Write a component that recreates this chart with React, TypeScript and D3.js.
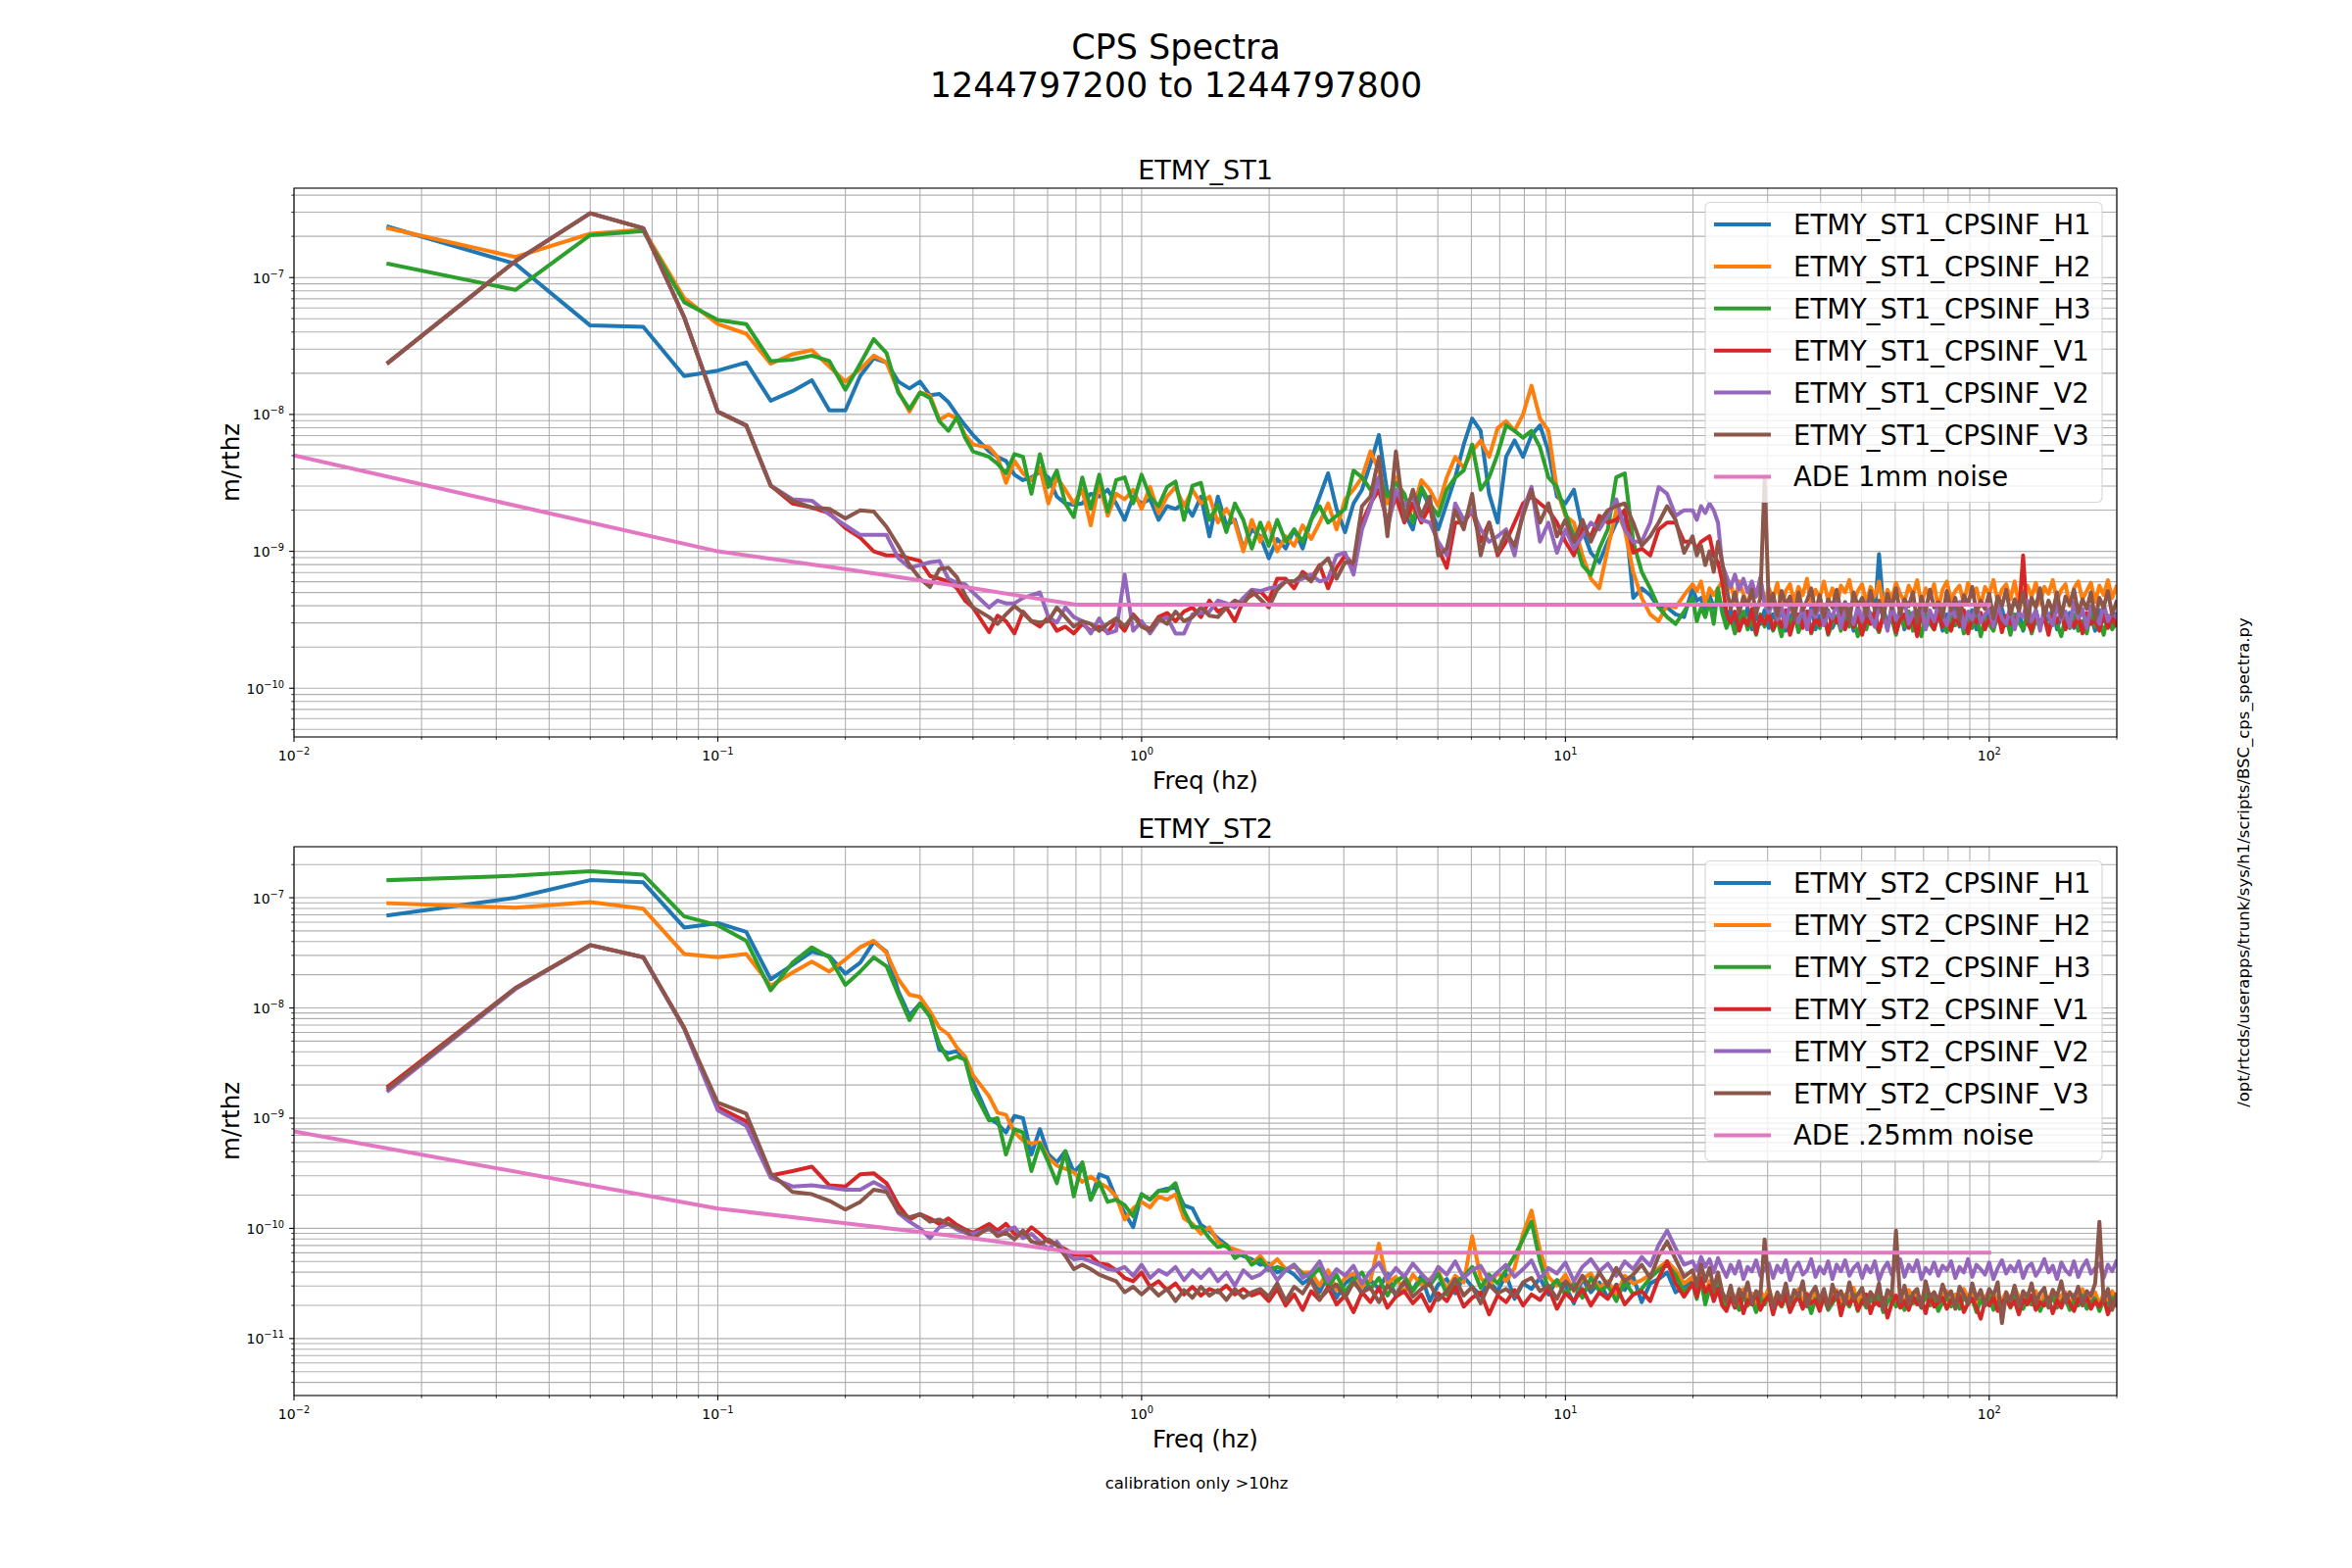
import React from 'react';
import * as d3 from 'd3';

const FONT = '"DejaVu Sans", Verdana, sans-serif';
const COLORS = ['#1f77b4', '#ff7f0e', '#2ca02c', '#d62728', '#9467bd', '#8c564b', '#e377c2'];

// frequency bins (Hz) of the low end, 1/60 Hz apart
const F_LOW = [0.0167, 0.0333, 0.05, 0.0667, 0.0833, 0.1, 0.1167, 0.1333, 0.15, 0.1667, 0.1833, 0.2, 0.2167, 0.2333, 0.25, 0.2667, 0.2833, 0.3, 0.3167, 0.3333, 0.35, 0.3667, 0.3833, 0.4];
// log10(Hz) of the points read in the middle (0.44 - 19 Hz)
const F_MID_LOG = [
  -0.36, -0.34, -0.32, -0.3, -0.28, -0.26, -0.24, -0.22, -0.2, -0.18,
  -0.16, -0.14, -0.12, -0.1, -0.08, -0.06, -0.04, -0.02, 0.0, 0.02,
  0.04, 0.06, 0.08, 0.1, 0.12, 0.14, 0.16, 0.18, 0.2, 0.22,
  0.24, 0.26, 0.28, 0.3, 0.32, 0.34, 0.36, 0.38, 0.4, 0.42,
  0.44, 0.46, 0.48, 0.5, 0.52, 0.54, 0.56, 0.58, 0.6, 0.62,
  0.64, 0.66, 0.68, 0.7, 0.72, 0.74, 0.76, 0.78, 0.8, 0.82,
  0.84, 0.86, 0.88, 0.9, 0.92, 0.94, 0.96, 0.98, 1.0, 1.02,
  1.04, 1.06, 1.08, 1.1, 1.12, 1.14, 1.16, 1.18, 1.2, 1.22,
  1.24, 1.26, 1.28,
];
// log10(Hz) of the points read in the noise band (20 - 200 Hz)
const F_BAND_LOG = [
  1.3, 1.31, 1.32, 1.33, 1.34, 1.35, 1.36, 1.37, 1.38, 1.39,
  1.4, 1.41, 1.42, 1.43, 1.44, 1.45, 1.46, 1.47, 1.48, 1.49,
  1.5, 1.51, 1.52, 1.53, 1.54, 1.55, 1.56, 1.57, 1.58, 1.59,
  1.6, 1.61, 1.62, 1.63, 1.64, 1.65, 1.66, 1.67, 1.68, 1.69,
  1.7, 1.71, 1.72, 1.73, 1.74, 1.75, 1.76, 1.77, 1.78, 1.79,
  1.8, 1.81, 1.82, 1.83, 1.84, 1.85, 1.86, 1.87, 1.88, 1.89,
  1.9, 1.91, 1.92, 1.93, 1.94, 1.95, 1.96, 1.97, 1.98, 1.99,
  2.0, 2.01, 2.02, 2.03, 2.04, 2.05, 2.06, 2.07, 2.08, 2.09,
  2.1, 2.11, 2.12, 2.13, 2.14, 2.15, 2.16, 2.17, 2.18, 2.19,
  2.2, 2.21, 2.22, 2.23, 2.24, 2.25, 2.26, 2.27, 2.28, 2.29, 2.3,
];

// ADE noise curves (Hz, log10 m/rthz)
const ADE_F = [0.01, 0.1, 0.2, 0.4, 0.7, 100];
const ADE_1MM = [-8.3, -9.0, -9.13, -9.27, -9.39, -9.39];
const ADE_025MM = [-9.12, -9.82, -9.955, -10.09, -10.22, -10.22];

const ST1_LABELS = ['ETMY_ST1_CPSINF_H1', 'ETMY_ST1_CPSINF_H2', 'ETMY_ST1_CPSINF_H3', 'ETMY_ST1_CPSINF_V1', 'ETMY_ST1_CPSINF_V2', 'ETMY_ST1_CPSINF_V3', 'ADE 1mm noise'];
const ST2_LABELS = ['ETMY_ST2_CPSINF_H1', 'ETMY_ST2_CPSINF_H2', 'ETMY_ST2_CPSINF_H3', 'ETMY_ST2_CPSINF_V1', 'ETMY_ST2_CPSINF_V2', 'ETMY_ST2_CPSINF_V3', 'ADE .25mm noise'];

// ---------- ETMY_ST1 (log10 m/rthz) ----------
const ST1_H1_LOW = [-6.63, -6.9, -7.35, -7.36, -7.72, -7.68, -7.62, -7.9, -7.83, -7.75, -7.97, -7.97, -7.72, -7.59, -7.62, -7.76, -7.81, -7.76, -7.86, -7.85, -7.91, -8.0, -8.08, -8.15];
const ST1_H1_MID = [
  -8.27, -8.31, -8.34, -8.44, -8.48, -8.46, -8.42, -8.46, -8.6, -8.65,
  -8.66, -8.65, -8.58, -8.6, -8.55, -8.65, -8.77, -8.6, -8.65, -8.62,
  -8.77, -8.67, -8.69, -8.65, -8.74, -8.6, -8.89, -8.6, -8.81, -8.77,
  -8.98, -8.84, -8.89, -9.05, -8.91, -8.98, -8.84, -8.98, -8.77, -8.6,
  -8.43, -8.69, -8.86,
  -8.65, -8.55, -8.36, -8.15, -8.58, -8.55, -8.72, -8.84, -8.55, -8.67,
  -8.84, -8.65, -8.46, -8.22, -8.03, -8.12, -8.58, -8.79, -8.31, -8.19,
  -8.31, -8.15, -8.08, -8.27, -8.6, -8.65, -8.55, -8.84, -9.01, -9.08,
  -8.93, -8.79, -8.7, -9.34, -9.27, -9.32, -9.41, -9.41, -9.46, -9.48,
];
const ST1_H1_BAND = [
  -9.27, -9.36, -9.34, -9.46, -9.32, -9.41, -9.36, -9.39, -9.5, -9.42,
  -9.55, -9.45, -9.52, -9.41, -9.57, -9.47, -9.53, -9.43, -9.56, -9.46,
  -9.51, -9.42, -9.58, -9.48, -9.44, -9.55, -9.46, -9.53, -9.41, -9.57,
  -9.47, -9.52, -9.43, -9.56, -9.49, -9.45, -9.54, -9.42, -9.58, -9.48,
  -9.53, -9.44, -9.5, -9.46, -9.02, -9.4, -9.55, -9.47, -9.52, -9.43,
  -9.57, -9.48, -9.45, -9.54, -9.42, -9.56, -9.49, -9.51, -9.44, -9.58,
  -9.46, -9.53, -9.41, -9.55, -9.48, -9.5, -9.43, -9.57, -9.47, -9.52,
  -9.45, -9.56, -9.49, -9.42, -9.54, -9.47, -9.51, -9.44, -9.58, -9.46,
  -9.53, -9.43, -9.55, -9.48, -9.5, -9.42, -9.57, -9.46, -9.52, -9.45,
  -9.56, -9.49, -9.44, -9.53, -9.47, -9.58, -9.43, -9.51, -9.48, -9.55, -9.46,
];
const ST1_H2_LOW = [-6.64, -6.85, -6.68, -6.65, -7.15, -7.34, -7.41, -7.63, -7.56, -7.53, -7.65, -7.76, -7.67, -7.57, -7.62, -7.83, -7.98, -7.84, -7.86, -8.04, -8.0, -8.03, -8.15, -8.22];
const ST1_H2_MID = [
  -8.24, -8.31, -8.5, -8.34, -8.43, -8.48, -8.39, -8.65, -8.46, -8.55,
  -8.65, -8.55, -8.81, -8.5, -8.74, -8.58, -8.62, -8.55, -8.69, -8.53,
  -8.72, -8.6, -8.53, -8.67, -8.55, -8.65, -8.6, -8.79, -8.69, -8.79,
  -9.0, -8.77, -8.93, -8.79, -9.0, -8.89, -8.96, -8.81, -8.91, -8.79,
  -8.65, -8.84, -8.62,
  -8.55, -8.46, -8.27, -8.41, -8.65, -8.46, -8.6, -8.7, -8.48, -8.55,
  -8.67, -8.46, -8.31, -8.39, -8.27, -8.19, -8.31, -8.1, -8.05, -8.12,
  -8.0, -7.79, -8.03, -8.12, -8.55, -8.74, -8.79, -9.03, -9.2, -9.27,
  -8.98, -8.7, -8.84, -9.15, -9.34, -9.46, -9.51, -9.39, -9.41, -9.32,
];
const ST1_H2_BAND = [
  -9.24, -9.29, -9.22, -9.39, -9.27, -9.32, -9.27, -9.22, -9.3, -9.24,
  -9.36, -9.22, -9.31, -9.4, -9.25, -9.33, -9.21, -9.38, -9.27, -9.35,
  -9.23, -9.41, -9.29, -9.24, -9.37, -9.26, -9.32, -9.2, -9.39, -9.28,
  -9.34, -9.22, -9.36, -9.27, -9.41, -9.25, -9.3, -9.21, -9.37, -9.29,
  -9.24, -9.38, -9.26, -9.33, -9.22, -9.4, -9.28, -9.35, -9.23, -9.31,
  -9.37, -9.25, -9.32, -9.21, -9.39, -9.27, -9.34, -9.24, -9.42, -9.28,
  -9.22, -9.36, -9.29, -9.25, -9.38, -9.23, -9.33, -9.27, -9.4, -9.26,
  -9.31, -9.21, -9.37, -9.28, -9.24, -9.35, -9.22, -9.39, -9.3, -9.25,
  -9.33, -9.23, -9.38, -9.26, -9.31, -9.21, -9.36, -9.28, -9.24, -9.4,
  -9.27, -9.22, -9.35, -9.29, -9.23, -9.37, -9.25, -9.32, -9.21, -9.34, -9.26,
];
const ST1_H3_LOW = [-6.9, -7.09, -6.69, -6.66, -7.18, -7.31, -7.34, -7.61, -7.6, -7.57, -7.61, -7.82, -7.63, -7.45, -7.55, -7.84, -7.96, -7.84, -7.88, -8.05, -8.12, -8.02, -8.17, -8.27];
const ST1_H3_MID = [
  -8.31, -8.36, -8.43, -8.29, -8.31, -8.58, -8.29, -8.53, -8.41, -8.65,
  -8.75, -8.46, -8.69, -8.44, -8.71, -8.48, -8.46, -8.65, -8.44, -8.6,
  -8.67, -8.53, -8.49, -8.77, -8.52, -8.5, -8.77, -8.66, -8.86, -8.65,
  -8.77, -8.98, -8.79, -8.96, -8.77, -8.93, -8.84, -8.93, -8.77, -8.67,
  -8.79, -8.74, -8.69,
  -8.41, -8.46, -8.55, -8.46, -8.6, -8.5, -8.58, -8.79, -8.53, -8.65,
  -8.74, -8.55, -8.46, -8.41, -8.22, -8.55, -8.46, -8.29, -8.08, -8.12,
  -8.17, -8.12, -8.24, -8.46, -8.53, -8.72, -8.89, -9.1, -9.17, -8.98,
  -8.84, -8.46, -8.43, -8.93, -9.15, -9.27, -9.41, -9.48, -9.53, -9.44,
];
const ST1_H3_BAND = [
  -9.34, -9.51, -9.41, -9.48, -9.36, -9.53, -9.27, -9.45, -9.56, -9.48,
  -9.6, -9.5, -9.44, -9.57, -9.49, -9.61, -9.46, -9.55, -9.43, -9.58,
  -9.5, -9.62, -9.47, -9.54, -9.45, -9.59, -9.51, -9.44, -9.6, -9.49,
  -9.56, -9.46, -9.61, -9.52, -9.47, -9.58, -9.44, -9.55, -9.5, -9.62,
  -9.48, -9.57, -9.45, -9.53, -9.59, -9.46, -9.54, -9.49, -9.61, -9.47,
  -9.55, -9.44, -9.58, -9.5, -9.62, -9.46, -9.53, -9.57, -9.45, -9.51,
  -9.59, -9.48, -9.54, -9.43, -9.6, -9.5, -9.56, -9.47, -9.62, -9.49,
  -9.53, -9.58, -9.45, -9.55, -9.48, -9.61, -9.46, -9.52, -9.57, -9.44,
  -9.6, -9.5, -9.55, -9.47, -9.59, -9.45, -9.53, -9.62, -9.48, -9.56,
  -9.46, -9.58, -9.51, -9.6, -9.44, -9.55, -9.49, -9.61, -9.47, -9.57, -9.52,
];
const ST1_V1_LOW = [-7.62, -6.88, -6.53, -6.64, -7.29, -7.98, -8.08, -8.52, -8.65, -8.68, -8.72, -8.83, -8.9, -9.0, -9.03, -9.03, -9.05, -9.07, -9.18, -9.2, -9.22, -9.27, -9.36, -9.41];
const ST1_V1_MID = [
  -9.59, -9.47, -9.51, -9.6, -9.44, -9.51, -9.55, -9.48, -9.58, -9.55,
  -9.6, -9.53, -9.58, -9.55, -9.59, -9.51, -9.58, -9.46, -9.53, -9.57,
  -9.48, -9.45, -9.51, -9.44, -9.41, -9.48, -9.36, -9.44, -9.41, -9.51,
  -9.36, -9.32, -9.29, -9.36, -9.2, -9.2, -9.27, -9.15, -9.2, -9.1,
  -9.27, -9.12, -9.03,
  -9.1, -8.79, -8.65, -8.55, -8.79, -8.6, -8.79, -8.65, -8.79, -8.67,
  -8.98, -9.12, -8.79, -8.79, -8.7, -8.93, -8.79, -9.03, -8.93, -8.79,
  -8.65, -8.6, -8.65, -8.7, -8.79, -8.93, -9.03, -8.84, -8.89, -8.74,
  -8.79, -8.77, -8.7, -9.01, -8.98, -9.03, -8.84, -8.79, -8.79, -8.93,
];
const ST1_V1_BAND = [
  -8.93, -8.98, -8.93, -8.91, -8.89, -9.03, -9.08, -9.22, -9.45, -9.52,
  -9.44, -9.58, -9.49, -9.54, -9.42, -9.6, -9.47, -9.53, -9.45, -9.57,
  -9.48, -9.55, -9.43, -9.61, -9.5, -9.46, -9.56, -9.44, -9.59, -9.49,
  -9.54, -9.45, -9.6, -9.47, -9.52, -9.43, -9.57, -9.48, -9.55, -9.46,
  -9.61, -9.49, -9.53, -9.44, -9.58, -9.47, -9.54, -9.42, -9.59, -9.5,
  -9.46, -9.56, -9.48, -9.62, -9.45, -9.53, -9.49, -9.57, -9.44, -9.55,
  -9.5, -9.58, -9.46, -9.54, -9.43, -9.6, -9.48, -9.52, -9.45, -9.57,
  -9.49, -9.55, -9.44, -9.59, -9.47, -9.53, -9.5, -9.46, -9.03, -9.52,
  -9.58, -9.45, -9.54, -9.48, -9.61, -9.46, -9.52, -9.44, -9.57, -9.49,
  -9.55, -9.47, -9.6, -9.45, -9.53, -9.5, -9.58, -9.44, -9.56, -9.48, -9.54,
];
const ST1_V2_LOW = [-7.62, -6.88, -6.53, -6.64, -7.29, -7.98, -8.08, -8.52, -8.62, -8.63, -8.73, -8.81, -8.88, -8.88, -8.88, -9.05, -9.12, -9.1, -9.08, -9.07, -9.2, -9.23, -9.24, -9.3];
const ST1_V2_MID = [
  -9.41, -9.36, -9.38, -9.38, -9.34, -9.32, -9.3, -9.48, -9.52, -9.41,
  -9.48, -9.51, -9.6, -9.49, -9.6, -9.58, -9.17, -9.58, -9.51, -9.6,
  -9.51, -9.48, -9.6, -9.6, -9.46, -9.45, -9.44, -9.36, -9.38, -9.41,
  -9.34, -9.28, -9.29, -9.27, -9.26, -9.22, -9.22, -9.2, -9.17, -9.22,
  -9.2, -9.03, -9.01,
  -9.17, -8.84, -8.67, -8.46, -8.84, -8.55, -8.67, -8.6, -8.77, -8.79,
  -8.93, -9.03, -8.65, -8.77, -8.7, -8.84, -8.93, -8.89, -8.84, -9.03,
  -8.7, -8.53, -8.93, -8.79, -9.01, -8.84, -8.98, -8.89, -8.79, -8.84,
  -8.74, -8.62, -8.84, -8.93, -8.93, -8.79, -8.53, -8.58, -8.74, -8.7,
];
const ST1_V2_BAND = [
  -8.7, -8.77, -8.67, -8.72, -8.65, -8.7, -8.79, -9.1, -9.18, -9.26,
  -9.17, -9.28, -9.2, -9.3, -9.22, -9.33, -9.19, -9.38, -9.45, -9.36,
  -9.5, -9.4, -9.55, -9.37, -9.46, -9.52, -9.39, -9.57, -9.43, -9.48,
  -9.38, -9.54, -9.44, -9.49, -9.36, -9.56, -9.42, -9.47, -9.53, -9.4,
  -9.51, -9.37, -9.48, -9.55, -9.41, -9.46, -9.58, -9.39, -9.5, -9.44,
  -9.36, -9.53, -9.45, -9.49, -9.4, -9.57, -9.43, -9.51, -9.38, -9.47,
  -9.54, -9.41, -9.48, -9.37, -9.56, -9.44, -9.5, -9.39, -9.52, -9.46,
  -9.42, -9.55, -9.38, -9.49, -9.53, -9.4, -9.57, -9.45, -9.48, -9.36,
  -9.51, -9.43, -9.58, -9.41, -9.47, -9.54, -9.39, -9.5, -9.44, -9.55,
  -9.37, -9.49, -9.42, -9.56, -9.4, -9.46, -9.53, -9.38, -9.51, -9.45, -9.48,
];
const ST1_V3_LOW = [-7.62, -6.88, -6.53, -6.64, -7.29, -7.98, -8.08, -8.52, -8.63, -8.68, -8.69, -8.76, -8.7, -8.71, -8.82, -8.96, -9.1, -9.2, -9.26, -9.13, -9.12, -9.19, -9.32, -9.41];
const ST1_V3_MID = [
  -9.48, -9.53, -9.46, -9.4, -9.45, -9.51, -9.52, -9.51, -9.41, -9.48,
  -9.55, -9.51, -9.53, -9.58, -9.53, -9.49, -9.55, -9.47, -9.55, -9.58,
  -9.49, -9.53, -9.44, -9.51, -9.48, -9.41, -9.47, -9.48, -9.41, -9.36,
  -9.39, -9.29, -9.35, -9.41, -9.28, -9.22, -9.22, -9.17, -9.22, -9.11,
  -9.05, -9.2, -9.08,
  -9.08, -8.67, -8.6, -8.31, -8.89, -8.27, -8.77, -8.55, -8.74, -8.6,
  -9.03, -8.98, -8.7, -8.84, -8.58, -9.03, -8.79, -9.01, -8.86, -8.96,
  -8.74, -8.55, -8.79, -8.65, -8.89, -8.77, -8.93, -8.77, -8.93, -8.79,
  -8.7, -8.67, -8.65, -8.79, -8.96, -8.89, -8.79, -8.67, -8.77, -9.01,
];
const ST1_V3_BAND = [
  -8.89, -9.03, -8.96, -9.1, -9.0, -9.15, -8.93, -9.08, -9.27, -9.42,
  -9.3, -9.45, -9.33, -9.4, -9.28, -9.46, -9.34, -8.47, -9.41, -9.31,
  -9.47, -9.29, -9.39, -9.33, -9.5, -9.3, -9.43, -9.36, -9.27, -9.45,
  -9.32, -9.48, -9.35, -9.41, -9.28, -9.44, -9.37, -9.51, -9.3, -9.4,
  -9.34, -9.47, -9.29, -9.43, -9.36, -9.49, -9.31, -9.42, -9.27, -9.46,
  -9.35, -9.4, -9.3, -9.52, -9.33, -9.44, -9.28, -9.41, -9.37, -9.48,
  -9.29, -9.43, -9.34, -9.5, -9.32, -9.39, -9.26, -9.45, -9.36, -9.42,
  -9.31, -9.49, -9.33, -9.4, -9.28, -9.46, -9.35, -9.43, -9.3, -9.51,
  -9.34, -9.41, -9.27, -9.47, -9.36, -9.44, -9.3, -9.48, -9.33, -9.39,
  -9.28, -9.45, -9.35, -9.42, -9.3, -9.5, -9.34, -9.41, -9.29, -9.46, -9.37,
];

// ---------- ETMY_ST2 (log10 m/rthz) ----------
const ST2_H1_LOW = [-7.16, -7.0, -6.84, -6.86, -7.27, -7.23, -7.31, -7.74, -7.61, -7.49, -7.53, -7.69, -7.59, -7.4, -7.49, -7.85, -8.07, -7.96, -8.06, -8.38, -8.41, -8.39, -8.47, -8.67];
const ST2_H1_MID = [
  -9.0, -9.05, -9.13, -8.98, -9.0, -9.33, -9.1, -9.33, -9.4, -9.3,
  -9.49, -9.41, -9.74, -9.51, -9.54, -9.73, -9.86, -9.99, -9.69, -9.74,
  -9.66, -9.64, -9.63, -9.79, -9.82, -9.97, -10.02, -10.09, -10.15, -10.22,
  -10.25, -10.28, -10.33, -10.32, -10.4, -10.37, -10.42, -10.5,
  -10.45, -10.58, -10.42, -10.63, -10.5, -10.44, -10.6, -10.47, -10.55, -10.41,
  -10.62, -10.49, -10.56, -10.43, -10.66, -10.51, -10.46, -10.59, -10.44, -10.53,
  -10.61, -10.48, -10.57, -10.42, -10.64, -10.5, -10.55, -10.45, -10.6, -10.47,
  -10.52, -10.68, -10.46, -10.58, -10.49, -10.63, -10.51, -10.56, -10.44, -10.67,
  -10.5, -10.46, -10.4, -10.58, -10.53,
];
const ST2_H1_BAND = [
  -10.48, -10.62, -10.45, -10.67, -10.52, -10.58, -10.47, -10.63, -10.7, -10.6,
  -10.66, -10.72, -10.59, -10.68, -10.62, -10.74, -10.61, -10.67, -10.58, -10.71,
  -10.64, -10.69, -10.6, -10.73, -10.65, -10.59, -10.7, -10.63, -10.75, -10.62,
  -10.68, -10.61, -10.72, -10.66, -10.6, -10.71, -10.64, -10.69, -10.58, -10.73,
  -10.63, -10.7, -10.62, -10.67, -10.59, -10.74, -10.65, -10.61, -10.69, -10.64,
  -10.72, -10.6, -10.66, -10.63, -10.7, -10.58, -10.68, -10.62, -10.73, -10.65,
  -10.61, -10.69, -10.64, -10.71, -10.59, -10.67, -10.62, -10.74, -10.63, -10.68,
  -10.6, -10.72, -10.65, -10.69, -10.62, -10.7, -10.58, -10.66, -10.71, -10.63,
  -10.67, -10.61, -10.73, -10.64, -10.69, -10.6, -10.7, -10.65, -10.62, -10.72,
  -10.64, -10.68, -10.59, -10.71, -10.66, -10.62, -10.73, -10.63, -10.69, -10.61, -10.67,
];
const ST2_H2_LOW = [-7.05, -7.09, -7.04, -7.1, -7.51, -7.54, -7.51, -7.8, -7.68, -7.58, -7.67, -7.56, -7.45, -7.39, -7.5, -7.74, -7.88, -7.9, -8.03, -8.18, -8.24, -8.36, -8.44, -8.61];
const ST2_H2_MID = [
  -8.8, -8.95, -8.97, -9.13, -9.2, -9.23, -9.22, -9.36, -9.43, -9.46,
  -9.49, -9.58, -9.53, -9.59, -9.63, -9.71, -9.92, -9.82, -9.76, -9.81,
  -9.71, -9.74, -9.69, -9.91, -9.96, -10.05, -9.99, -10.12, -10.17, -10.19,
  -10.22, -10.32, -10.25, -10.35, -10.28, -10.37, -10.35, -10.4,
  -10.4, -10.52, -10.38, -10.56, -10.45, -10.41, -10.53, -10.47, -10.14, -10.5,
  -10.44, -10.58, -10.42, -10.51, -10.46, -10.39, -10.55, -10.43, -10.49, -10.07,
  -10.45, -10.53, -10.4, -10.48, -10.36, -10.05, -9.84, -10.2, -10.44, -10.52,
  -10.42, -10.57, -10.46, -10.41, -10.54, -10.48, -10.6, -10.43, -10.5, -10.47,
  -10.42, -10.36, -10.3, -10.38, -10.5,
];
const ST2_H2_BAND = [
  -10.44, -10.56, -10.4, -10.6, -10.48, -10.53, -10.42, -10.58, -10.66, -10.57,
  -10.62, -10.68, -10.55, -10.64, -10.59, -10.7, -10.57, -10.63, -10.54, -10.67,
  -10.6, -10.65, -10.56, -10.69, -10.61, -10.55, -10.66, -10.59, -10.71, -10.58,
  -10.64, -10.57, -10.68, -10.62, -10.56, -10.67, -10.6, -10.65, -10.54, -10.69,
  -10.59, -10.66, -10.58, -10.63, -10.55, -10.7, -10.61, -10.57, -10.65, -10.6,
  -10.68, -10.56, -10.62, -10.59, -10.66, -10.54, -10.64, -10.58, -10.69, -10.61,
  -10.57, -10.65, -10.6, -10.67, -10.55, -10.63, -10.58, -10.7, -10.59, -10.64,
  -10.56, -10.68, -10.61, -10.65, -10.58, -10.66, -10.54, -10.62, -10.67, -10.59,
  -10.63, -10.57, -10.69, -10.6, -10.65, -10.56, -10.66, -10.61, -10.58, -10.68,
  -10.6, -10.64, -10.55, -10.67, -10.62, -10.58, -10.69, -10.59, -10.65, -10.57, -10.63,
];
const ST2_H3_LOW = [-6.84, -6.8, -6.76, -6.79, -7.17, -7.25, -7.39, -7.84, -7.59, -7.45, -7.54, -7.79, -7.67, -7.54, -7.62, -7.88, -8.11, -7.96, -8.08, -8.33, -8.47, -8.44, -8.47, -8.74];
const ST2_H3_MID = [
  -9.02, -9.0, -9.33, -9.1, -9.13, -9.48, -9.23, -9.4, -9.59, -9.3,
  -9.71, -9.4, -9.74, -9.58, -9.76, -9.74, -9.79, -9.89, -9.69, -9.74,
  -9.66, -9.66, -9.59, -9.84, -9.99, -9.99, -10.09, -10.17, -10.15, -10.27,
  -10.22, -10.33, -10.28, -10.38, -10.35, -10.38, -10.33, -10.42,
  -10.44, -10.36, -10.53, -10.42, -10.58, -10.47, -10.4, -10.55, -10.45, -10.61,
  -10.48, -10.43, -10.57, -10.46, -10.52, -10.41, -10.6, -10.49, -10.44, -10.35,
  -10.54, -10.42, -10.5, -10.38, -10.25, -10.1, -9.94, -10.3, -10.55, -10.47,
  -10.6, -10.5, -10.63, -10.45, -10.57, -10.52, -10.66, -10.48, -10.6, -10.55,
  -10.45, -10.38, -10.33, -10.42, -10.58,
];
const ST2_H3_BAND = [
  -10.5, -10.64, -10.47, -10.69, -10.55, -10.61, -10.49, -10.66, -10.72, -10.62,
  -10.68, -10.74, -10.61, -10.7, -10.64, -10.76, -10.63, -10.69, -10.6, -10.73,
  -10.66, -10.71, -10.62, -10.75, -10.67, -10.61, -10.72, -10.65, -10.77, -10.64,
  -10.7, -10.63, -10.74, -10.68, -10.62, -10.73, -10.66, -10.71, -10.6, -10.75,
  -10.65, -10.72, -10.64, -10.69, -10.61, -10.76, -10.67, -10.63, -10.71, -10.66,
  -10.74, -10.62, -10.68, -10.65, -10.72, -10.6, -10.7, -10.64, -10.75, -10.67,
  -10.63, -10.71, -10.66, -10.73, -10.61, -10.69, -10.64, -10.76, -10.65, -10.7,
  -10.62, -10.74, -10.67, -10.71, -10.64, -10.72, -10.6, -10.68, -10.73, -10.65,
  -10.69, -10.63, -10.75, -10.66, -10.71, -10.62, -10.72, -10.67, -10.64, -10.74,
  -10.66, -10.7, -10.61, -10.73, -10.68, -10.64, -10.75, -10.65, -10.71, -10.63, -10.69,
];
const ST2_V1_LOW = [-8.71, -7.82, -7.43, -7.54, -8.18, -8.9, -9.03, -9.52, -9.48, -9.44, -9.61, -9.62, -9.51, -9.5, -9.59, -9.79, -9.92, -9.87, -9.91, -9.96, -9.91, -9.97, -10.01, -10.04];
const ST2_V1_MID = [
  -9.96, -10.02, -9.96, -10.05, -10.07, -9.99, -10.05, -10.12, -10.15, -10.19,
  -10.24, -10.24, -10.25, -10.32, -10.33, -10.38, -10.45, -10.48, -10.4, -10.53,
  -10.48, -10.56, -10.5, -10.6, -10.53, -10.61, -10.55, -10.58, -10.52, -10.6,
  -10.55, -10.61,
  -10.58, -10.66, -10.55, -10.7, -10.6, -10.74, -10.57, -10.65, -10.53, -10.69,
  -10.61, -10.76, -10.58, -10.67, -10.54, -10.72, -10.62, -10.57, -10.68, -10.6,
  -10.75, -10.59, -10.66, -10.53, -10.71, -10.63, -10.58, -10.78, -10.61, -10.67,
  -10.56, -10.7, -10.6, -10.65, -10.54, -10.73, -10.59, -10.66, -10.55, -10.7,
  -10.58, -10.64, -10.52, -10.69, -10.6, -10.57, -10.66, -10.45, -10.3, -10.5,
  -10.62,
];
const ST2_V1_BAND = [
  -10.5, -10.62, -10.45, -10.58, -10.52, -10.66, -10.55, -10.7, -10.75, -10.63,
  -10.72, -10.6, -10.77, -10.65, -10.69, -10.58, -10.74, -10.66, -10.61, -10.78,
  -10.64, -10.7, -10.59, -10.76, -10.67, -10.62, -10.73, -10.6, -10.68, -10.65,
  -10.75, -10.61, -10.71, -10.66, -10.58, -10.79, -10.64, -10.69, -10.62, -10.74,
  -10.67, -10.6, -10.77, -10.65, -10.7, -10.63, -10.81, -10.68, -10.61, -10.72,
  -10.66, -10.74, -10.62, -10.69, -10.64, -10.77, -10.6, -10.71, -10.67, -10.63,
  -10.73, -10.65, -10.7, -10.61, -10.76, -10.68, -10.64, -10.72, -10.82, -10.66,
  -10.7, -10.62, -10.75, -10.67, -10.63, -10.71, -10.66, -10.78, -10.64, -10.69,
  -10.61, -10.74, -10.67, -10.7, -10.63, -10.77, -10.65, -10.72, -10.6, -10.68,
  -10.75, -10.64, -10.69, -10.62, -10.73, -10.66, -10.71, -10.63, -10.78, -10.67, -10.7,
];
const ST2_V2_LOW = [-8.75, -7.83, -7.43, -7.54, -8.19, -8.93, -9.07, -9.54, -9.62, -9.61, -9.63, -9.65, -9.65, -9.58, -9.64, -9.86, -9.94, -10.0, -10.09, -9.99, -9.96, -10.01, -10.04, -10.05];
const ST2_V2_MID = [
  -10.01, -10.05, -10.02, -9.99, -10.09, -10.05, -10.12, -10.19, -10.12, -10.22,
  -10.28, -10.27, -10.3, -10.33, -10.37, -10.38, -10.35, -10.43, -10.33, -10.45,
  -10.38, -10.42, -10.35, -10.47, -10.38, -10.45, -10.37, -10.48, -10.4, -10.52,
  -10.38, -10.45,
  -10.42, -10.35, -10.47, -10.38, -10.33, -10.45, -10.4, -10.3, -10.48, -10.37,
  -10.43, -10.34, -10.5, -10.39, -10.31, -10.46, -10.36, -10.44, -10.32, -10.41,
  -10.49, -10.35, -10.42, -10.3, -10.45, -10.38, -10.34, -10.47, -10.4, -10.33,
  -10.44, -10.37, -10.29, -10.46, -10.36, -10.41, -10.31, -10.48, -10.35, -10.28,
  -10.39, -10.32, -10.43, -10.3, -10.37, -10.26, -10.34, -10.15, -10.02, -10.18,
  -10.33,
];
const ST2_V2_BAND = [
  -10.3, -10.38, -10.26, -10.35, -10.28, -10.4, -10.27, -10.36, -10.44, -10.33,
  -10.41, -10.3, -10.46, -10.35, -10.39, -10.29, -10.43, -10.37, -10.32, -10.45,
  -10.34, -10.4, -10.29, -10.47, -10.36, -10.31, -10.42, -10.38, -10.28, -10.44,
  -10.35, -10.41, -10.3, -10.46, -10.33, -10.39, -10.29, -10.43, -10.36, -10.32,
  -10.45, -10.34, -10.4, -10.3, -10.47, -10.37, -10.31, -10.42, -10.35, -10.28,
  -10.44, -10.33, -10.39, -10.29, -10.46, -10.36, -10.41, -10.31, -10.43, -10.34,
  -10.38, -10.3, -10.45, -10.35, -10.4, -10.28, -10.44, -10.33, -10.37, -10.42,
  -10.31, -10.46, -10.36, -10.29, -10.41, -10.34, -10.39, -10.3, -10.45, -10.35,
  -10.32, -10.43, -10.37, -10.28, -10.4, -10.34, -10.46, -10.31, -10.38, -10.42,
  -10.3, -10.44, -10.35, -10.29, -10.41, -10.36, -10.32, -10.45, -10.33, -10.39, -10.3,
];
const ST2_V3_LOW = [-8.73, -7.82, -7.43, -7.54, -8.18, -8.86, -8.96, -9.5, -9.67, -9.69, -9.75, -9.83, -9.76, -9.65, -9.67, -9.85, -9.9, -9.87, -9.94, -9.92, -9.96, -9.99, -10.02, -10.09];
const ST2_V3_MID = [
  -9.99, -10.07, -10.04, -10.1, -10.02, -10.12, -10.14, -10.1, -10.15, -10.25,
  -10.37, -10.33, -10.37, -10.42, -10.45, -10.48, -10.58, -10.53, -10.6, -10.53,
  -10.61, -10.55, -10.66, -10.56, -10.63, -10.53, -10.61, -10.56, -10.65, -10.55,
  -10.63, -10.58,
  -10.55, -10.62, -10.5, -10.66, -10.53, -10.59, -10.47, -10.64, -10.56, -10.51,
  -10.63, -10.49, -10.58, -10.54, -10.67, -10.52, -10.6, -10.48, -10.62, -10.55,
  -10.5, -10.65, -10.57, -10.46, -10.61, -10.53, -10.68, -10.51, -10.59, -10.55,
  -10.62, -10.49, -10.45, -10.57, -10.52, -10.64, -10.48, -10.56, -10.43, -10.55,
  -10.4, -10.52, -10.36, -10.48, -10.42, -10.33, -10.45, -10.25, -10.12, -10.28,
  -10.44,
];
const ST2_V3_BAND = [
  -10.38, -10.52, -10.33, -10.48, -10.36, -10.55, -10.4, -10.58, -10.66, -10.52,
  -10.7, -10.55, -10.63, -10.49, -10.68, -10.57, -10.61, -10.1, -10.54, -10.72,
  -10.58, -10.65, -10.5, -10.69, -10.56, -10.62, -10.48, -10.71, -10.59, -10.53,
  -10.66, -10.55, -10.73, -10.51, -10.63, -10.57, -10.68, -10.49, -10.64, -10.6,
  -10.54, -10.7, -10.58, -10.65, -10.5, -10.74, -10.56, -10.61, -10.02, -10.67,
  -10.52, -10.69, -10.59, -10.55, -10.72, -10.48, -10.63, -10.58, -10.66, -10.51,
  -10.62, -10.57, -10.73, -10.53, -10.6, -10.68, -10.5, -10.64, -10.56, -10.7,
  -10.55, -10.61, -10.49, -10.86, -10.58, -10.66, -10.52, -10.71, -10.57, -10.63,
  -10.5, -10.68, -10.59, -10.54, -10.72, -10.56, -10.62, -10.48, -10.67, -10.58,
  -10.64, -10.53, -10.7, -10.57, -10.61, -10.5, -9.94, -10.66, -10.55, -10.74, -10.6,
];

type Pt = [number, number];

function toPoints(low: number[], mid: number[], band: number[]): Pt[] {
  const out: Pt[] = [];
  low.forEach((v, i) => { if (i < F_LOW.length) out.push([F_LOW[i], Math.pow(10, v)]); });
  mid.forEach((v, i) => { if (i < F_MID_LOG.length) out.push([Math.pow(10, F_MID_LOG[i]), Math.pow(10, v)]); });
  band.forEach((v, i) => { if (i < F_BAND_LOG.length) out.push([Math.pow(10, F_BAND_LOG[i]), Math.pow(10, v)]); });
  return out;
}

const ST1_SERIES = [
  toPoints(ST1_H1_LOW, ST1_H1_MID, ST1_H1_BAND),
  toPoints(ST1_H2_LOW, ST1_H2_MID, ST1_H2_BAND),
  toPoints(ST1_H3_LOW, ST1_H3_MID, ST1_H3_BAND),
  toPoints(ST1_V1_LOW, ST1_V1_MID, ST1_V1_BAND),
  toPoints(ST1_V2_LOW, ST1_V2_MID, ST1_V2_BAND),
  toPoints(ST1_V3_LOW, ST1_V3_MID, ST1_V3_BAND),
  ADE_F.map((f, i) => [f, Math.pow(10, ADE_1MM[i])] as Pt),
];
const ST2_SERIES = [
  toPoints(ST2_H1_LOW, ST2_H1_MID, ST2_H1_BAND),
  toPoints(ST2_H2_LOW, ST2_H2_MID, ST2_H2_BAND),
  toPoints(ST2_H3_LOW, ST2_H3_MID, ST2_H3_BAND),
  toPoints(ST2_V1_LOW, ST2_V1_MID, ST2_V1_BAND),
  toPoints(ST2_V2_LOW, ST2_V2_MID, ST2_V2_BAND),
  toPoints(ST2_V3_LOW, ST2_V3_MID, ST2_V3_BAND),
  ADE_F.map((f, i) => [f, Math.pow(10, ADE_025MM[i])] as Pt),
];

const LEFT = 300;
const RIGHT = 2160;
const AX_H = 560;
const LINE_W = 4;

function PowLabel({ x, y, exp, anchor }: { x: number; y: number; exp: number; anchor: string }) {
  const sup = exp < 0 ? '\u2212' + Math.abs(exp) : String(exp);
  return (
    <text x={x} y={y} textAnchor={anchor} fontSize={14} fontFamily={FONT} fill="#000">
      <tspan>10</tspan>
      <tspan dy={-6} fontSize={9.8}>{sup}</tspan>
    </text>
  );
}

function Panel({ id, top, title, yLo, yHi, series, labels }: {
  id: string; top: number; title: string; yLo: number; yHi: number; series: Pt[][]; labels: string[];
}) {
  const bottom = top + AX_H;
  const x = d3.scaleLog().domain([0.01, 200]).range([LEFT, RIGHT]);
  const y = d3.scaleLog().domain([Math.pow(10, yLo), Math.pow(10, yHi)]).range([bottom, top]);
  const line = d3.line<Pt>().x((d) => x(d[0])).y((d) => y(d[1]));

  const xMajorExp = [-2, -1, 0, 1, 2];
  const xMinor: number[] = [];
  xMajorExp.forEach((e) => {
    for (let k = 2; k <= 9; k++) {
      const v = k * Math.pow(10, e);
      if (v <= 200.0001) xMinor.push(v);
    }
  });
  const yMajorExp = d3.range(Math.ceil(yLo), Math.floor(yHi) + 1);
  const yMinor: number[] = [];
  d3.range(Math.floor(yLo), Math.floor(yHi) + 1).forEach((e) => {
    for (let k = 2; k <= 9; k++) {
      const lv = e + Math.log10(k);
      if (lv > yLo && lv < yHi) yMinor.push(Math.pow(10, lv));
    }
  });

  const grid = '#b0b0b0';
  const legTop = top + 14.5;

  return (
    <g>
      <defs>
        <clipPath id={id}>
          <rect x={LEFT} y={top} width={RIGHT - LEFT} height={AX_H} />
        </clipPath>
      </defs>
      <rect x={LEFT} y={top} width={RIGHT - LEFT} height={AX_H} fill="#fff" />
      {/* grid, major and minor */}
      {[...xMajorExp.map((e) => Math.pow(10, e)), ...xMinor].map((v, i) => (
        <line key={'gx' + i} x1={x(v)} x2={x(v)} y1={top} y2={bottom} stroke={grid} strokeWidth={1.1} />
      ))}
      {[...yMajorExp.map((e) => Math.pow(10, e)), ...yMinor].map((v, i) => (
        <line key={'gy' + i} x1={LEFT} x2={RIGHT} y1={y(v)} y2={y(v)} stroke={grid} strokeWidth={1.1} />
      ))}
      {/* spectra */}
      <g clipPath={`url(#${id})`}>
        {series.map((pts, i) => (
          <path key={'s' + i} d={line(pts) || ''} fill="none" stroke={COLORS[i]} strokeWidth={LINE_W}
            strokeLinejoin="round" strokeLinecap="square" />
        ))}
      </g>
      {/* spines */}
      <rect x={LEFT} y={top} width={RIGHT - LEFT} height={AX_H} fill="none" stroke="#000" strokeWidth={1.1} />
      {/* ticks */}
      {xMajorExp.map((e) => (
        <g key={'xt' + e}>
          <line x1={x(Math.pow(10, e))} x2={x(Math.pow(10, e))} y1={bottom} y2={bottom + 4.9} stroke="#000" strokeWidth={1.1} />
          <PowLabel x={x(Math.pow(10, e))} y={bottom + 24} exp={e} anchor="middle" />
        </g>
      ))}
      {xMinor.map((v, i) => (
        <line key={'xm' + i} x1={x(v)} x2={x(v)} y1={bottom} y2={bottom + 2.8} stroke="#000" strokeWidth={0.8} />
      ))}
      {yMajorExp.map((e) => (
        <g key={'yt' + e}>
          <line x1={LEFT - 4.9} x2={LEFT} y1={y(Math.pow(10, e))} y2={y(Math.pow(10, e))} stroke="#000" strokeWidth={1.1} />
          <PowLabel x={LEFT - 10} y={y(Math.pow(10, e)) + 5.5} exp={e} anchor="end" />
        </g>
      ))}
      {yMinor.map((v, i) => (
        <line key={'ym' + i} x1={LEFT - 2.8} x2={LEFT} y1={y(v)} y2={y(v)} stroke="#000" strokeWidth={0.8} />
      ))}
      {/* title and axis labels */}
      <text x={(LEFT + RIGHT) / 2} y={top - 9} textAnchor="middle" fontSize={27} fontFamily={FONT}>{title}</text>
      <text x={(LEFT + RIGHT) / 2} y={bottom + 53} textAnchor="middle" fontSize={24.5} fontFamily={FONT}>Freq (hz)</text>
      <text transform={`translate(244,${top + AX_H / 2}) rotate(-90)`} textAnchor="middle" fontSize={24.5} fontFamily={FONT}>m/rthz</text>
      {/* legend */}
      <rect x={1740} y={legTop} width={405} height={306} rx={5} ry={5} fill="#fff" fillOpacity={0.8}
        stroke="#cccccc" strokeOpacity={0.8} strokeWidth={1.1} />
      {labels.map((lab, k) => {
        const cy = legTop + 22.5 + k * 42.9;
        return (
          <g key={'lg' + k}>
            <line x1={1749} x2={1807} y1={cy} y2={cy} stroke={COLORS[k]} strokeWidth={LINE_W} />
            <text x={1830} y={cy + 10} fontSize={27.5} fontFamily={FONT} fill="#000">{lab}</text>
          </g>
        );
      })}
    </g>
  );
}

export default function App() {
  return (
    <div style={{ position: 'absolute', left: 0, top: 0, width: 2400, height: 1600, background: '#fff' }}>
      <svg width={2400} height={1600} viewBox="0 0 2400 1600" style={{ display: 'block' }}>
        <rect x={0} y={0} width={2400} height={1600} fill="#fff" />
        <text x={1200} y={60} textAnchor="middle" fontSize={35} fontFamily={FONT}>CPS Spectra</text>
        <text x={1200} y={99} textAnchor="middle" fontSize={35} fontFamily={FONT}>1244797200 to 1244797800</text>
        <Panel id="clip-st1" top={192} title="ETMY_ST1" yLo={-10.356} yHi={-6.347} series={ST1_SERIES} labels={ST1_LABELS} />
        <Panel id="clip-st2" top={864} title="ETMY_ST2" yLo={-11.517} yHi={-6.537} series={ST2_SERIES} labels={ST2_LABELS} />
        <text x={1221} y={1519} textAnchor="middle" fontSize={16.5} fontFamily={FONT}>calibration only &gt;10hz</text>
        <text transform="translate(2295,880) rotate(-90)" textAnchor="middle" fontSize={16.5} fontFamily={FONT}>
          /opt/rtcds/userapps/trunk/sys/h1/scripts/BSC_cps_spectra.py
        </text>
      </svg>
    </div>
  );
}
